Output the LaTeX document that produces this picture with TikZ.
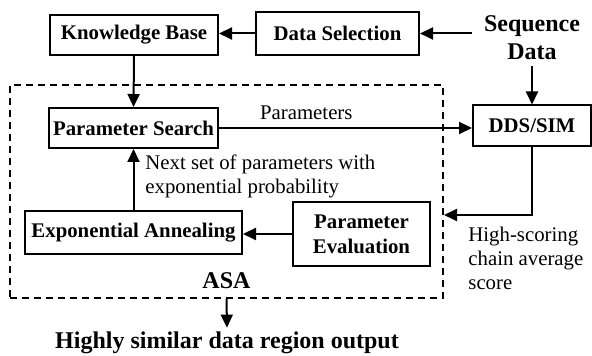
\documentclass[tikz,border=0pt]{standalone}
\usepackage{fontspec}
\setmainfont{Liberation Serif}
\usetikzlibrary{arrows.meta,positioning,calc}
\tikzset{
    blk/.style={draw, line width=1pt, font=\fontsize{10.4}{12.5}\selectfont\bfseries, align=center, inner sep=2pt},
    arr/.style={-{Triangle[length=6.5pt,width=6pt]}, line width=1pt},
    asabox/.style={draw, line width=1pt, dash pattern=on 3.5pt off 2.5pt},
    txt/.style={font=\fontsize{10.4}{12}\selectfont, align=left, inner sep=0pt},
    big/.style={font=\fontsize{12}{14}\selectfont\bfseries, align=center, inner sep=0pt}
}
\begin{document}
\begin{tikzpicture}[x=0.5pt,y=-0.5pt]
            \useasboundingbox (0,0) rectangle (592,356);

            % the ASA frame
            \node[asabox, minimum width=216.5pt, minimum height=106.5pt] (asa) at (226.5,191.5) {};

            % Define the boxes
            \node[blk, minimum width=84pt, minimum height=20pt] (kb) at (134,35) {Knowledge Base};
            \node[blk, minimum width=81.5pt, minimum height=21.5pt] (ds) at (337.5,33.5) {Data Selection};
            \node[big] (seq) at (532,38) {Sequence\\Data};
            \node[blk, minimum width=84.5pt, minimum height=20pt] (ps) at (133.5,128) {Parameter Search};
            \node[blk, minimum width=59pt, minimum height=20.5pt] (dds) at (532,126) {DDS/SIM};
            \node[blk, minimum width=108.5pt, minimum height=21.5pt] (ea) at (133.5,232.5) {Exponential Annealing};
            \node[blk, minimum width=68.5pt, minimum height=32pt] (pe) at (361.5,234) {Parameter\\Evaluation};

            % Add labels
            \node[txt, anchor=west] (next) at (145,176) {Next set of parameters with\\exponential probability};
            \node[txt, anchor=west] (hs) at (468,258) {High-scoring\\chain average\\score};
            \node[big, anchor=south] (asalbl) at ([yshift=5pt]asa.south) {ASA};
            \node[big] (out) at (227,343) {Highly similar data region output};

            % Draw the arrows
            \draw[arr] ([xshift=-6pt]seq.west |- ds.east) -- (ds.east);
            \draw[arr] (ds.west) -- (ds.west -| kb.east);
            \draw[arr] ([yshift=-3pt]seq.south) -- (dds.north);
            \draw[arr] (kb.south) -- (ps.north);
            \draw[arr] (ps.east) -- (ps.east -| dds.west) node[txt, pos=0.345, above=3.5pt] {Parameters};
            \draw[arr] (ea.north) -- (ps.south);
            \draw[arr] (pe.west) -- (pe.west -| ea.east);
            \draw[arr] (dds.south) |- ($(asa.east)+(0,23.5)$);
            \draw[arr] (asa.south) -- ([yshift=2pt]out.north);

        \end{tikzpicture}
\end{document}
